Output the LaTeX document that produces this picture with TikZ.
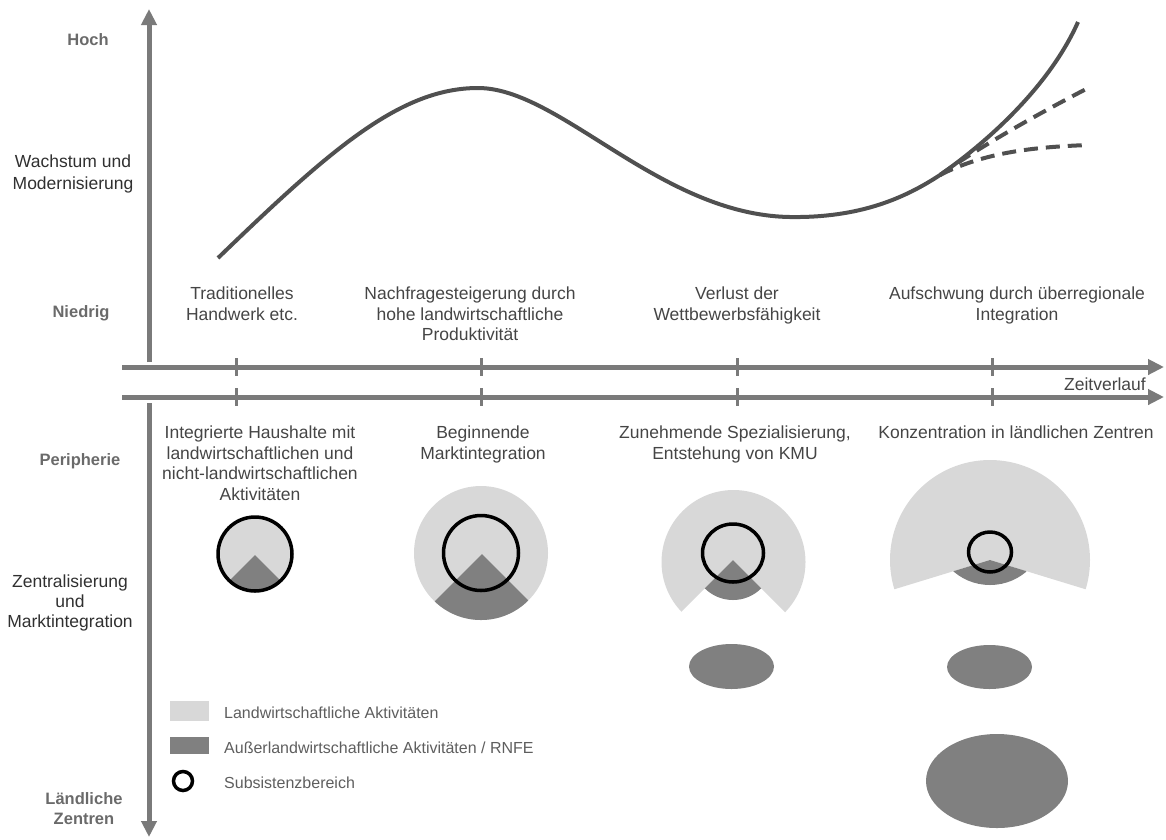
\documentclass[tikz,border=0pt]{standalone}
\usepackage{fontspec}
\setmainfont{Liberation Sans}
\usetikzlibrary{arrows.meta}
\definecolor{axisgray}{HTML}{7A7A7A}
\definecolor{curvegray}{HTML}{505050}
\definecolor{lightfill}{HTML}{D8D8D8}
\definecolor{darkfill}{HTML}{808080}
\definecolor{txt}{HTML}{454545}
\definecolor{sidetext}{HTML}{303030}
\definecolor{lbl}{HTML}{6A6A6A}
\definecolor{lgd}{HTML}{5E5E5E}
\begin{document}
\begin{tikzpicture}[x=1pt,y=-1pt,
  axisline/.style={draw=axisgray, line width=5pt},
  axisarrow/.style={axisline, -{Triangle[length=16pt,width=15pt]}},
  tickmark/.style={draw=axisgray, line width=3pt},
  desc/.style={font=\fontsize{17.5}{20.5}\selectfont, text=txt, align=center, inner sep=0pt, anchor=north},
  sidelbl/.style={font=\fontsize{16.5}{20}\selectfont\bfseries, text=lbl, align=center, inner sep=0pt, anchor=north},
  sidetxt/.style={font=\fontsize{17.5}{20.5}\selectfont, text=sidetext, align=center, inner sep=0pt, anchor=north},
  legendtxt/.style={font=\fontsize{16}{18}\selectfont, text=lgd, inner sep=0pt, anchor=base west},
  curve/.style={draw=curvegray, line width=4pt},
  dashcurve/.style={curve, dash pattern=on 14pt off 8pt},
  subs/.style={draw=black, line width=3.5pt},
]
\useasboundingbox (0,0) rectangle (1166,839);

% axes
\coordinate (vtop) at (149,9);
\coordinate (vmidA) at (149,362);
\coordinate (vmidB) at (149,403);
\coordinate (vbot) at (149,837);
\coordinate (hAs) at (122,367);
\coordinate (hAe) at (1164,367);
\coordinate (hBs) at (122,397);
\coordinate (hBe) at (1164,397);
\draw[axisarrow] (vmidA) -- (vtop);
\draw[axisarrow] (vmidB) -- (vbot);
\draw[axisarrow] (hAs) -- (hAe);
\draw[axisarrow] (hBs) -- (hBe);
\foreach \x in {236,481,737,992}{
  \draw[tickmark] (\x,358) -- (\x,376);
  \draw[tickmark] (\x,388) -- (\x,406);
}
\node[desc, anchor=base east] (zeit) at (1146,390) {Zeitverlauf};

% growth curve
\draw[curve] (218,258) .. controls (330,150) and (400,88) .. (478,88)
  .. controls (560,88) and (660,215) .. (790,217)
  .. controls (860,218) and (905,198) .. (940,175)
  .. controls (990,140) and (1050,85) .. (1078,22);
\draw[dashcurve] (940,175) .. controls (975,150) and (1030,118) .. (1090,87);
\draw[dashcurve] (940,175) .. controls (985,152) and (1035,147) .. (1088,145);

% left labels
\node[sidelbl] (hoch) at (88,33) {Hoch};
\node[sidetxt, font=\fontsize{17.5}{22}\selectfont] (wachstum) at (73,155) {Wachstum und\\Modernisierung};
\node[sidelbl] (niedrig) at (81,305) {Niedrig};
\node[sidelbl] (peripherie) at (80,453) {Peripherie};
\node[sidetxt, font=\fontsize{17.5}{20}\selectfont] (zentral) at (70,575) {Zentralisierung\\und\\Marktintegration};
\node[sidelbl] (laendlich) at (84,792) {Ländliche\\Zentren};

% upper descriptions
\node[desc] (d1) at (242,287) {Traditionelles\\Handwerk etc.};
\node[desc] (d2) at (470,287) {Nachfragesteigerung durch\\hohe landwirtschaftliche\\Produktivität};
\node[desc] (d3) at (737,287) {Verlust der\\Wettbewerbsfähigkeit};
\node[desc] (d4) at (1017,287) {Aufschwung durch überregionale\\Integration};

% lower descriptions
\node[desc] (s1) at (260,426) {Integrierte Haushalte mit\\landwirtschaftlichen und\\nicht-landwirtschaftlichen\\Aktivitäten};
\node[desc] (s2) at (483,426) {Beginnende\\Marktintegration};
\node[desc] (s3) at (735,426) {Zunehmende Spezialisierung,\\Entstehung von KMU};
\node[desc] (s4) at (1016,426) {Konzentration in ländlichen Zentren};

% stage 1
\fill[lightfill] (255,554) circle (38);
\begin{scope}
  \clip (255,554) circle (38);
  \fill[darkfill] (255,555) -- ++(-100,100) -- ++(200,0) -- cycle;
\end{scope}
\draw[subs] (255,554) circle (37);

% stage 2
\fill[lightfill] (481,553) circle (67);
\begin{scope}
  \clip (481,553) circle (67);
  \fill[darkfill] (482,554) -- ++(-120,120) -- ++(240,0) -- cycle;
\end{scope}
\draw[subs] (481,553) circle (37.5);

% stage 3
\begin{scope}
  \clip (733,560) -- ++(-150,150) -- ++(0,-300) -- ++(300,0) -- ++(0,300) -- cycle;
  \fill[lightfill] (733.5,562) circle (72);
\end{scope}
\begin{scope}
  \clip (733,560) circle (40);
  \fill[darkfill] (733,560) -- ++(-100,100) -- ++(200,0) -- cycle;
\end{scope}
\draw[subs] (733,553) ellipse (30.5 and 29);
\fill[darkfill] (731.5,666.5) ellipse (42.5 and 22.5);

% stage 4
\begin{scope}
  \clip (990,560) -- ++(-150,45.9) -- ++(0,-200) -- ++(300,0) -- ++(0,200) -- cycle;
  \fill[lightfill] (990,560) circle (100);
\end{scope}
\begin{scope}
  \clip (990,560) -- ++(-150,45.9) -- ++(0,100) -- ++(300,0) -- ++(0,-100) -- cycle;
  \fill[darkfill] (990,529) circle (56);
\end{scope}
\draw[subs] (990,552) ellipse (21.5 and 20);
\fill[darkfill] (989.5,667) ellipse (42.5 and 22);
\fill[darkfill] (997,781) ellipse (71 and 47);

% legend
\fill[lightfill] (170,701) rectangle (209,721);
\fill[darkfill] (170,737) rectangle (209,754);
\draw[subs] (183,781) circle (9.5);
\node[legendtxt] (lg1) at (224,718) {Landwirtschaftliche Aktivitäten};
\node[legendtxt] (lg2) at (224,753) {Außerlandwirtschaftliche Aktivitäten / RNFE};
\node[legendtxt] (lg3) at (224,788) {Subsistenzbereich};
\end{tikzpicture}
\end{document}
